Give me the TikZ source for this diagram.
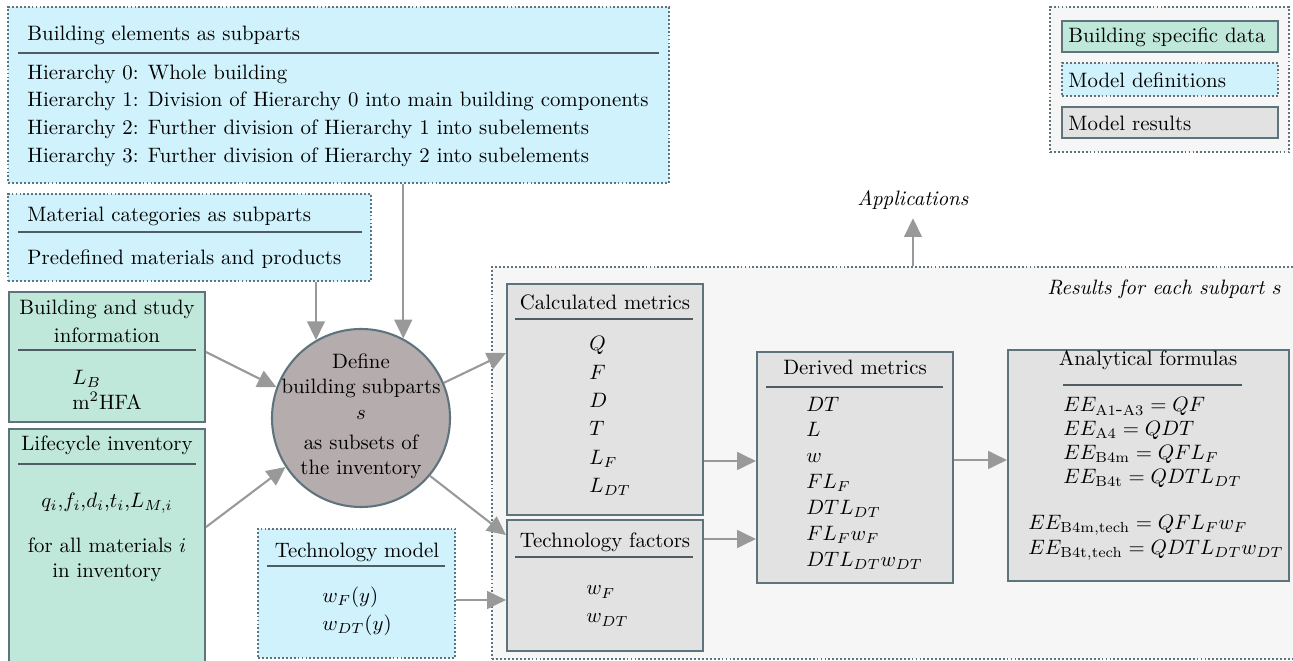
\documentclass[tikz,border=0pt]{standalone}
\usepackage{tikz}
\usetikzlibrary{arrows.meta}
\usetikzlibrary{fit}

\definecolor{datagreen}{HTML}{C0E8DA}
\definecolor{defblue}{HTML}{D0F2FC}
\definecolor{resgray}{HTML}{E2E2E2}
\definecolor{panelgray}{HTML}{F6F6F6}
\definecolor{subpartgray}{HTML}{B5ADAD}
\definecolor{edgeslate}{HTML}{5E737B}
\definecolor{rulegray}{HTML}{4F5D63}
\definecolor{flowgray}{HTML}{999999}

\begin{document}
\begin{tikzpicture}[x=0.48pt,y=-0.48pt,inner sep=0pt,
    databox/.style={draw=edgeslate,line width=1pt,fill=datagreen},
    defbox/.style={draw=edgeslate,densely dotted,line width=0.9pt,fill=defblue},
    resbox/.style={draw=edgeslate,line width=1pt,fill=resgray},
    panel/.style={draw=edgeslate,densely dotted,line width=0.9pt,fill=panelgray},
    headrule/.style={draw=rulegray,line width=1pt},
    flow/.style={draw=flowgray,line width=1pt,-{Triangle[length=9pt,width=8.5pt]}}]

      % 画像の大きさ
      \fill[white] (0,0) rectangle (1293,661);
      \useasboundingbox (0,0) rectangle (1293,661);

      % 背景パネル
      \node[panel,fit={(492,267)(1300,659)}] (results) {};
      \node[panel,fit={(1050,7)(1289,152)}] (legend) {};

      % 凡例
      \node[databox,fit={(1062,21)(1278,52)}] (legdata) {};
      \node[defbox,fit={(1062,63)(1278,96)}] (legdef) {};
      \node[resbox,fit={(1062,107)(1278,138)}] (legres) {};
      \node[anchor=west] (legdataT) at (1068,37) {Building specific data};
      \node[anchor=west] (legdefT) at (1068,80) {Model definitions};
      \node[anchor=west] (legresT) at (1068,123) {Model results};

      % 入力側の箱
      \node[defbox,fit={(8,7)(669,183)}] (elem) {};
      \node[defbox,fit={(8,194)(371,281)}] (mat) {};
      \node[databox,fit={(9,292)(205,422)}] (study) {};
      \node[databox,fit={(9,429)(205,663)}] (life) {};
      \node[defbox,fit={(258,529)(455,658)}] (techm) {};
      \node[circle,draw=edgeslate,line width=1pt,fill=subpartgray,%
        minimum size=89*0.96pt] (circ) at (361,418) {};

      % 結果側の箱
      \node[resbox,fit={(507,284)(703,515)}] (calc) {};
      \node[resbox,fit={(507,520)(703,651)}] (techf) {};
      \node[resbox,fit={(757,352)(953,583)}] (derived) {};
      \node[resbox,fit={(1008,350)(1289,581)}] (anal) {};

      % 見出しの下線
      \draw[headrule] (18,53) -- (659,53);
      \draw[headrule] (18,232) -- (362,232);
      \draw[headrule] (18,350) -- (196,350);
      \draw[headrule] (18,464) -- (196,464);
      \draw[headrule] (267,566) -- (445,566);
      \draw[headrule] (515,319) -- (693,319);
      \draw[headrule] (515,557) -- (693,557);
      \draw[headrule] (766,387) -- (943,387);
      \draw[headrule] (1063,385) -- (1242,385);

      % 文字
      \node[anchor=west] (elemT) at (27,35) {Building elements as subparts};
      \node[anchor=west,align=left] (elemB) at (27,115.5) {%
        Hierarchy 0: Whole building\\[1.3pt]
        Hierarchy 1: Division of Hierarchy 0 into main building components\\[1.3pt]
        Hierarchy 2: Further division of Hierarchy 1 into subelements\\[1.3pt]
        Hierarchy 3: Further division of Hierarchy 2 into subelements};
      \node[anchor=west] (matT) at (27,216) {Material categories as subparts};
      \node[anchor=west] (matB) at (27,259) {Predefined materials and products};

      \node[align=center] (studyT) at (107,321) {%
        Building and study\\[1.4pt]information};
      \node[align=left] (studyB) at (107,389.5) {$L_B$\\m$^2$HFA};
      \node (lifeT) at (107,445) {Lifecycle inventory};
      \node (lifeQ) at (107,503) {$q_i$,$f_i$,$d_i$,$t_i$,$L_{M,i}$};
      \node[align=center] (lifeB) at (107,560) {%
        for all materials $i$\\in inventory};

      \node (techmT) at (357,552) {Technology model};
      \node[align=left] (techmB) at (357,611) {%
        $w_F(y)$\\[1.4pt]$w_{DT}(y)$};

      \node[align=center] (circT) at (361,416.5) {%
        Define\\building subparts\\[0.5pt]$s$\\[2.5pt]as subsets of\\the inventory};

      \node (calcT) at (605,302) {Calculated metrics};
      \node[anchor=west,align=left] (calcB) at (589,416) {%
        $Q$\\[1.6pt]$F$\\[1.6pt]$D$\\[1.6pt]$T$\\[1.6pt]$L_F$\\[1.6pt]$L_{DT}$};
      \node (techfT) at (605,542) {Technology factors};
      \node[anchor=west,align=left] (techfB) at (586,606) {%
        $w_F$\\[1.4pt]$w_{DT}$};

      \node (derivedT) at (855,367) {Derived metrics};
      \node[anchor=west,align=left] (derivedB) at (806,483) {%
        $DT$\\[0.4pt]$L$\\[0.4pt]$w$\\[0.4pt]$FL_F$\\[0.4pt]$DTL_{DT}$\\[0.4pt]%
        $FL_Fw_F$\\[0.4pt]$DTL_{DT}w_{DT}$};

      \node (analT) at (1148,360) {Analytical formulas};
      \node[anchor=west,align=left] (analA) at (1063,442.5) {%
        $EE_{\mathrm{A1\mbox{-}A3}}=QF$\\[-0.6pt]
        $EE_{\mathrm{A4}}=QDT$\\[-0.6pt]
        $EE_{\mathrm{B4m}}=QFL_F$\\[-0.6pt]
        $EE_{\mathrm{B4t}}=QDTL_{DT}$};
      \node[anchor=west,align=left] (analB) at (1028,538) {%
        $EE_{\mathrm{B4m,tech}}=QFL_Fw_F$\\
        $EE_{\mathrm{B4t,tech}}=QDTL_{DT}w_{DT}$};

      \node[anchor=east] (resultsT) at (1282,289) {\textit{Results for each subpart $s$}};
      \node[inner sep=4pt] (apps) at (913,200) {\textit{Applications}};

      % 矢印
      \draw[flow] (elem.south -| circ.62) -- (circ.62);
      \draw[flow] (mat.south -| circ.120) -- (circ.120);
      \draw[flow] (study.east |- 0,352) -- (circ.160);
      \draw[flow] (life.east |- 0,527) -- (circ.213);
      \draw[flow] (circ.23) -- (calc.west |- 0,353);
      \draw[flow] (circ.320) -- (techf.west |- 0,535);
      \draw[flow] (techm.east |- 0,600) -- (techf.west |- 0,600);
      \draw[flow] (calc.east |- 0,461) -- (derived.west |- 0,461);
      \draw[flow] (techf.east |- 0,539) -- (derived.west |- 0,539);
      \draw[flow] (derived.east |- 0,460) -- (anal.west |- 0,460);
      \draw[flow] (results.north -| apps.south) -- (apps.south);
    \end{tikzpicture}
\end{document}
